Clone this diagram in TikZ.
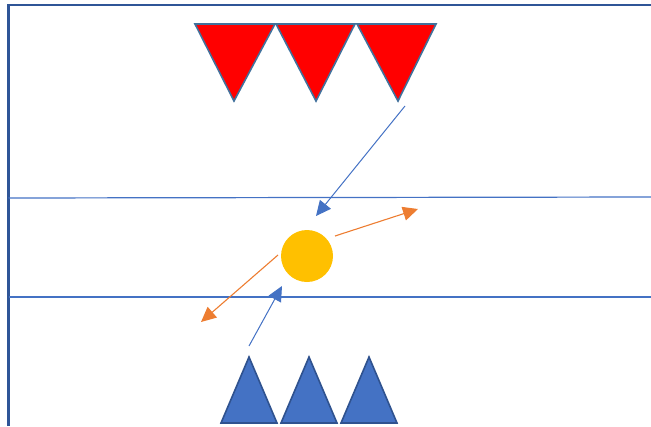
\documentclass[tikz,border=0pt]{standalone}
\usetikzlibrary{arrows.meta}
\definecolor{frameblue}{HTML}{2F5597}
\definecolor{lineblue}{HTML}{4472C4}
\definecolor{triedge}{HTML}{41719C}
\definecolor{blueedge}{HTML}{2F528F}
\definecolor{sunorange}{HTML}{ED7D31}
\definecolor{sunyellow}{HTML}{FFC000}
\begin{document}
\begin{tikzpicture}[x=1pt,y=-1pt,
  frame/.style={draw=frameblue,line width=2.6pt},
  layer/.style={draw=lineblue,line width=1.2pt},
  redtri/.style={fill=red,draw=triedge,line width=1.6pt,line join=miter},
  bluetri/.style={fill=lineblue,draw=blueedge,line width=1.6pt,line join=miter},
  bluearrow/.style={draw=lineblue,line width=1pt,-{Triangle[length=15pt,width=14pt]}},
  orangearrow/.style={draw=sunorange,line width=1.1pt,-{Triangle[length=15pt,width=14pt]}}]
\useasboundingbox (0,0) rectangle (651,426);
% frame
\draw[frame] (8.5,426) -- (8.5,5) -- (651,5);
% layers
\draw[layer] (8.5,198) -- (651,197);
\draw[layer] (8.5,297) -- (651,297);
% red triangles
\draw[redtri] (195,24) -- (275,24) -- (234,101) -- cycle;
\draw[redtri] (276,24) -- (355,24) -- (316,101) -- cycle;
\draw[redtri] (357,24) -- (436,24) -- (398,101) -- cycle;
% blue triangles
\draw[bluetri] (221,423) -- (277,423) -- (249,357) -- cycle;
\draw[bluetri] (281,423) -- (337,423) -- (309,357) -- cycle;
\draw[bluetri] (341,423) -- (397,423) -- (369,357) -- cycle;
% sun
\node[circle,fill=sunyellow,minimum size=52pt,inner sep=0pt] (sun) at (307,256) {};
\coordinate (a1s) at (405,106);
\coordinate (a1e) at (316,216);
\coordinate (a2s) at (249,346);
\coordinate (a2e) at (282,286);
\coordinate (o1s) at (335,236);
\coordinate (o1e) at (418,209);
\coordinate (o2s) at (278,255);
\coordinate (o2e) at (201,322);
\draw[bluearrow] (a1s) -- (a1e);
\draw[bluearrow] (a2s) -- (a2e);
\draw[orangearrow] (o1s) -- (o1e);
\draw[orangearrow] (o2s) -- (o2e);
\end{tikzpicture}
\end{document}
